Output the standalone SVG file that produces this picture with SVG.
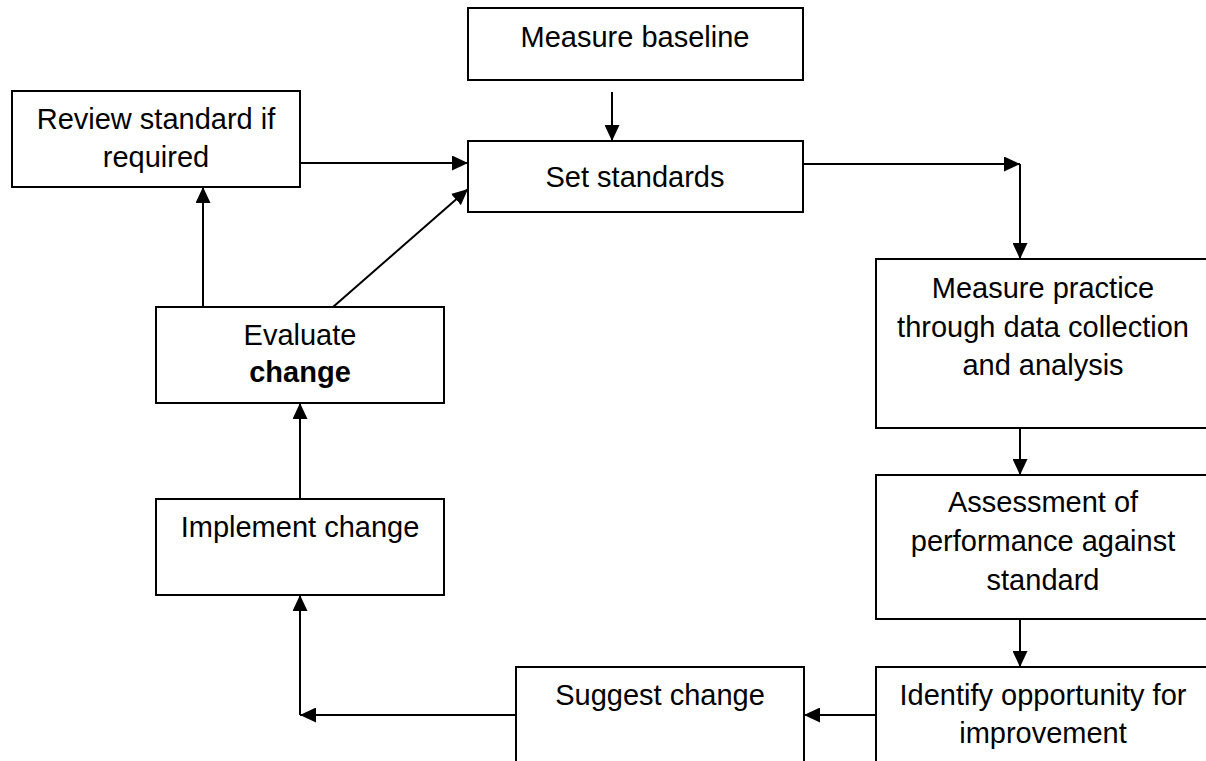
<svg xmlns="http://www.w3.org/2000/svg" width="1206" height="761" viewBox="0 0 1206 761">
<style>
.box{fill:#fff;stroke:#000;stroke-width:2}
.t{font-family:"Liberation Sans",Arial,sans-serif;font-size:29px;fill:#000;text-anchor:middle}
.b{font-weight:bold}
.c{fill:none;stroke:#000;stroke-width:2}
</style>
<defs>
<marker id="ah" markerUnits="userSpaceOnUse" markerWidth="16" markerHeight="15" refX="16" refY="7.5" orient="auto" viewBox="0 0 16 15">
<path d="M0,0 L16,7.5 L0,15 z" fill="#000"/>
</marker>
</defs>
<rect width="1206" height="761" fill="#fff"/>
<g id="connectors">
<line class="c" x1="612" y1="92" x2="612" y2="141" marker-end="url(#ah)"/>
<line class="c" x1="300" y1="163" x2="468" y2="163" marker-end="url(#ah)"/>
<line class="c" x1="333" y1="307" x2="468" y2="189" marker-end="url(#ah)"/>
<line class="c" x1="203" y1="307" x2="203" y2="187" marker-end="url(#ah)"/>
<line class="c" x1="803" y1="164" x2="1020" y2="164" marker-end="url(#ah)"/>
<line class="c" x1="1020" y1="164" x2="1020" y2="259" marker-end="url(#ah)"/>
<line class="c" x1="1020" y1="428" x2="1020" y2="475" marker-end="url(#ah)"/>
<line class="c" x1="1020" y1="619" x2="1020" y2="667" marker-end="url(#ah)"/>
<line class="c" x1="876" y1="715" x2="804" y2="715" marker-end="url(#ah)"/>
<line class="c" x1="516" y1="715" x2="300" y2="715" marker-end="url(#ah)"/>
<line class="c" x1="300" y1="715" x2="300" y2="595" marker-end="url(#ah)"/>
<line class="c" x1="300" y1="499" x2="300" y2="403" marker-end="url(#ah)"/>
</g>
<g id="measure-baseline">
<rect class="box" x="468" y="8" width="335" height="72"/>
<text class="t" x="635" y="47">Measure baseline</text>
</g>
<g id="set-standards">
<rect class="box" x="468" y="141" width="335" height="71"/>
<text class="t" x="635" y="187">Set standards</text>
</g>
<g id="review-standard">
<rect class="box" x="12" y="91" width="288" height="96"/>
<text class="t" x="156" y="129">Review standard if</text>
<text class="t" x="156" y="167">required</text>
</g>
<g id="evaluate-change">
<rect class="box" x="156" y="307" width="288" height="96"/>
<text class="t" x="300" y="345">Evaluate</text>
<text class="t b" x="300" y="382">change</text>
</g>
<g id="implement-change">
<rect class="box" x="156" y="499" width="288" height="96"/>
<text class="t" x="300" y="537">Implement change</text>
</g>
<g id="measure-practice">
<rect class="box" x="876" y="259" width="334" height="169"/>
<text class="t" x="1043" y="298">Measure practice</text>
<text class="t" x="1043" y="337">through data collection</text>
<text class="t" x="1043" y="375">and analysis</text>
</g>
<g id="assessment">
<rect class="box" x="876" y="475" width="334" height="144"/>
<text class="t" x="1043" y="512">Assessment of</text>
<text class="t" x="1043" y="551">performance against</text>
<text class="t" x="1043" y="590">standard</text>
</g>
<g id="identify-opportunity">
<rect class="box" x="876" y="667" width="334" height="120"/>
<text class="t" x="1043" y="705">Identify opportunity for</text>
<text class="t" x="1043" y="743">improvement</text>
</g>
<g id="suggest-change">
<rect class="box" x="516" y="667" width="288" height="120"/>
<text class="t" x="660" y="705">Suggest change</text>
</g>
</svg>
